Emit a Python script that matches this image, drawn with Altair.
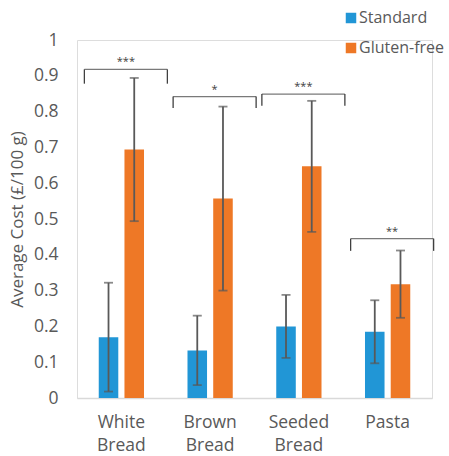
import altair as alt
import pandas as pd

# Average cost per 100 g, with the spread shown as error bars
categories = ["White Bread", "Brown Bread", "Seeded Bread", "Pasta"]
series = ["Standard", "Gluten-free"]
standard_mean = [0.170, 0.133, 0.200, 0.185]
standard_err = [0.152, 0.097, 0.088, 0.088]
glutenfree_mean = [0.694, 0.557, 0.647, 0.318]
glutenfree_err = [0.200, 0.257, 0.183, 0.094]

# Significance brackets above each pair
bracket_top = [0.918, 0.842, 0.849, 0.445]
bracket_end = [0.878, 0.810, 0.816, 0.411]
stars = ["***", "*", "***", "**"]

rows = []
for i, c in enumerate(categories):
    rows.append({"category": c, "series": "Standard",
                 "mean": standard_mean[i], "err": standard_err[i]})
    rows.append({"category": c, "series": "Gluten-free",
                 "mean": glutenfree_mean[i], "err": glutenfree_err[i]})
df = pd.DataFrame(rows)
df["lo"] = df["mean"] - df["err"]
df["hi"] = df["mean"] + df["err"]

br = pd.DataFrame({"category": categories, "top": bracket_top,
                   "end": bracket_end, "stars": stars})

FONT = "Open Sans"
TXT = "#595959"
y_ticks = [0, 0.1, 0.2, 0.3, 0.4, 0.5, 0.6, 0.7, 0.8, 0.9, 1]
Y_TITLE = "Average Cost (£/100 g)"

x_axis = alt.Axis(labelExpr="split(datum.label, ' ')", labelAngle=0,
                  labelFontSize=17.5, labelColor=TXT, labelFont=FONT,
                  labelLineHeight=23, labelPadding=15, ticks=False,
                  domainColor="#d9d9d9", domainWidth=1.3)
x_scale = alt.Scale(paddingInner=0.49, paddingOuter=0.245)
y_axis = alt.Axis(values=y_ticks, format=".1~f", tickCount=11,
                  grid=False, domain=False, ticks=False, labelOverlap=False,
                  labelFontSize=17.5, labelColor=TXT, labelFont=FONT,
                  labelPadding=19,
                  titleFontSize=17, titleColor=TXT, titleFont=FONT,
                  titleFontWeight="normal", titleAngle=-90,
                  titleX=-60, titleY=179, titleAlign="center",
                  titleBaseline="middle")
y_scale = alt.Scale(domain=[0, 1])
xo = alt.XOffset("series:N", sort=series, scale=alt.Scale(paddingInner=0.24))


def X():
    return alt.X("category:N", sort=categories, title=None,
                 scale=x_scale, axis=x_axis)


def Y(field):
    return alt.Y(field, scale=y_scale, title=Y_TITLE, axis=y_axis)


bars = alt.Chart(df).mark_bar().encode(
    x=X(),
    xOffset=xo,
    y=Y("mean:Q"),
    color=alt.Color("series:N", sort=series,
                    scale=alt.Scale(domain=series, range=["#2196d6", "#ee7826"]),
                    legend=alt.Legend(title=None, orient="none", legendX=266,
                                      legendY=-30, symbolType="square",
                                      symbolSize=110, symbolStrokeWidth=0,
                                      labelFontSize=16, labelColor=TXT,
                                      labelFont=FONT, rowPadding=14,
                                      labelOffset=0)),
)

err_line = alt.Chart(df).mark_rule(color="#595959", strokeWidth=1.8).encode(
    x=X(), xOffset=xo, y=Y("lo:Q"), y2="hi:Q",
)
cap_hi = alt.Chart(df).mark_tick(color="#595959", orient="horizontal",
                                 size=9, thickness=1.8).encode(
    x=X(), xOffset=xo, y=Y("hi:Q"),
)
cap_lo = alt.Chart(df).mark_tick(color="#595959", orient="horizontal",
                                 size=9, thickness=1.8).encode(
    x=X(), xOffset=xo, y=Y("lo:Q"),
)

bracket_h = alt.Chart(br).mark_tick(color="#404040", orient="horizontal",
                                    size=83, thickness=1.3, xOffset=4.5).encode(
    x=X(), y=Y("top:Q"),
)
bracket_l = alt.Chart(br).mark_rule(color="#404040", strokeWidth=1.3,
                                    xOffset=-37).encode(
    x=X(), y=Y("top:Q"), y2="end:Q",
)
bracket_r = alt.Chart(br).mark_rule(color="#404040", strokeWidth=1.3,
                                    xOffset=46).encode(
    x=X(), y=Y("top:Q"), y2="end:Q",
)
star_text = alt.Chart(br).mark_text(color="#404040", fontSize=11, font=FONT,
                                    dy=-7, xOffset=4.5,
                                    baseline="middle").encode(
    x=X(), y=Y("top:Q"), text="stars:N",
)

chart = alt.layer(bars, err_line, cap_hi, cap_lo, bracket_h, bracket_l,
                  bracket_r, star_text).properties(
    width=355, height=358,
    autosize=alt.AutoSizeParams(type="none"),
    padding={"left": 77, "top": 40, "right": 17, "bottom": 58},
).configure_view(stroke="transparent", strokeWidth=0).configure(
    background="white")

chart.save("out.html", embed_options={"renderer": "svg", "actions": False})
